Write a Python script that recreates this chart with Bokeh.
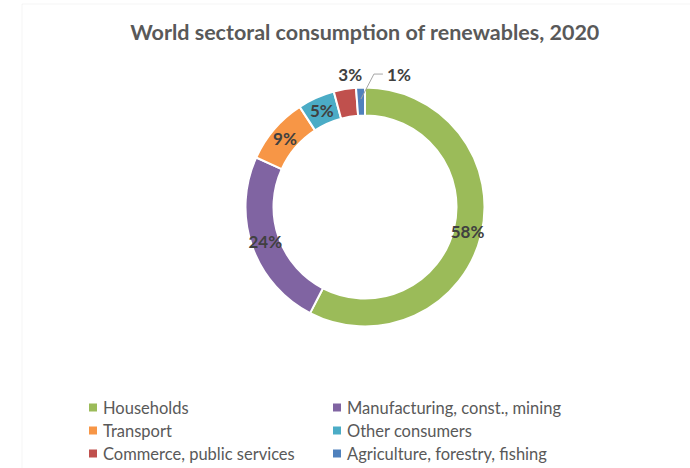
import math
from bokeh.plotting import figure
from bokeh.models import Range1d, BoxAnnotation, ColumnDataSource
from bokeh.core.properties import value
from bokeh.embed import file_html
from bokeh.resources import INLINE

# ---- data ----
title_text = "World sectoral consumption of renewables, 2020"
sectors = ["Households", "Manufacturing, const., mining", "Transport",
           "Other consumers", "Commerce, public services", "Agriculture, forestry, fishing"]
shares = [57.6, 24.2, 9.0, 5.0, 3.0, 1.2]
colors = ["#9BBB59", "#8064A2", "#F79646", "#4BACC6", "#C0504D", "#4F81BD"]

W, H = 690, 468
FONT = "Lato"

p = figure(width=W, height=H, output_backend="svg", toolbar_location=None,
           x_range=Range1d(0, W), y_range=Range1d(0, H), min_border=0,
           background_fill_color="white", border_fill_color="white")
p.axis.visible = False
p.grid.visible = False
p.outline_line_color = None

# chart frame
p.add_layout(BoxAnnotation(left=21.5, right=W + 10, bottom=-10, top=H - 3.5,
                           fill_alpha=0, line_color="#D9D9D9", line_width=1))

cx, cy = 364.5, H - 206.5
r_out, r_in = 119.5, 91.5

total = sum(shares)
starts, ends, mids = [], [], []
cum = 0.0
for v in shares:
    f0 = cum / total
    cum += v
    f1 = cum / total
    starts.append(math.pi / 2 - f0 * 2 * math.pi)
    ends.append(math.pi / 2 - f1 * 2 * math.pi)
    mids.append(math.pi / 2 - (f0 + f1) / 2 * 2 * math.pi)

src = ColumnDataSource(dict(start=starts, end=ends, color=colors))
p.annular_wedge(x=cx, y=cy, inner_radius=r_in, outer_radius=r_out,
                start_angle="start", end_angle="end", direction="clock",
                fill_color="color", line_color="white", line_width=2, source=src)

# data labels
labels = [f"{round(v / total * 100)}%" for v in shares]
r_mid = (r_in + r_out) / 2
lx, ly, ll = [], [], []
for i, (a, t) in enumerate(zip(mids, labels)):
    if i < 4:
        lx.append(cx + r_mid * math.cos(a))
        ly.append(cy + r_mid * math.sin(a))
    elif i == 4:
        lx.append(cx + 135 * math.cos(a) + 8)
        ly.append(cy + 135 * math.sin(a) - 1)
    else:
        # leader line
        sx, sy = cx + 108 * math.cos(a), cy + 108 * math.sin(a)
        ex, ey = sx + 13, sy + 25
        p.line([sx, ex, ex + 9], [sy, ey, ey], line_color="#A6A6A6", line_width=1)
        lx.append(ex + 25)
        ly.append(ey)
    ll.append(t)
p.text(x=lx, y=ly, text=ll, text_align="center", text_baseline="middle",
       text_font=value(FONT), text_font_style="bold", text_font_size="17px",
       text_color="#404040")

# title
p.text(x=[cx], y=[H - 31], text=[title_text], text_align="center", text_baseline="middle",
       text_font=value(FONT), text_font_style="bold", text_font_size="21.5px",
       text_color="#595959")

# legend
col_x = [92.5, 336.5]
row_y0, row_dy = H - 407, 23
sq_x, sq_y, tx, ty = [], [], [], []
for i, name in enumerate(sectors):
    c, r = i % 2, i // 2
    sq_x.append(col_x[c])
    sq_y.append(row_y0 - r * row_dy)
    tx.append(col_x[c] + 10)
    ty.append(row_y0 - r * row_dy)
p.scatter(x=sq_x, y=sq_y, marker="square", size=8, fill_color=colors, line_color=None)
p.text(x=tx, y=ty, text=sectors, text_align="left", text_baseline="middle",
       text_font=value(FONT), text_font_size="16.5px", text_color="#595959")

open("out.html", "w").write(file_html(p, INLINE))
